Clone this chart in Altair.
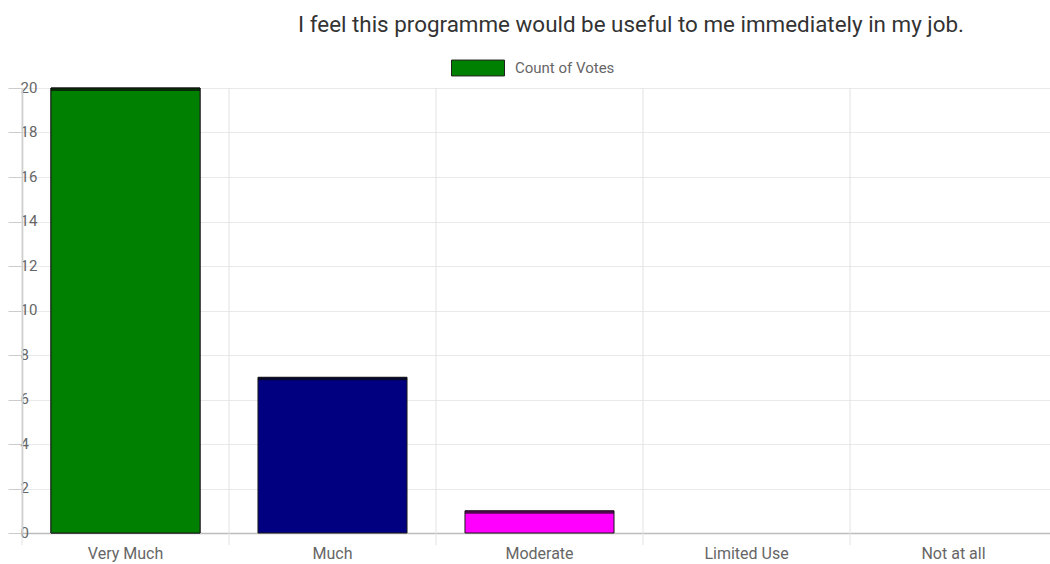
import altair as alt
import pandas as pd

categories = ["Very Much", "Much", "Moderate", "Limited Use", "Not at all"]
votes = [20, 7, 1, 0, 0]
bar_colors = ["#008000", "#000080", "#ff00ff", "#ffa500", "#ff0000"]
series_name = "Count of Votes"
y_ticks = list(range(0, 21, 2))
title_text = "I feel this programme would be useful to me immediately in my job."

df = pd.DataFrame({"cat": categories, "votes": votes, "color": bar_colors, "series": [series_name] * len(categories)})

FONT = "Roboto"
xscale = alt.Scale(domain=categories, range=[0, 1035], paddingInner=0, paddingOuter=0)
yscale = alt.Scale(domain=[0, 20], nice=False)

xaxis = alt.Axis(
    title=None,
    ticks=False,
    grid=False,
    domainColor="#bdbdbd",
    domainWidth=1.5,
    labelFont=FONT,
    labelFontSize=16,
    labelColor="#666666",
    labelPadding=12,
    labelAngle=0,
)
yaxis = alt.Axis(
    title=None,
    values=y_ticks,
    tickSize=14,
    tickColor="#cccccc",
    domainColor="#bdbdbd",
    domainWidth=1.5,
    gridColor="#e9e9e9",
    labelFont=FONT,
    labelFontSize=15,
    labelColor="#666666",
    labelAlign="left",
    labelPadding=-12,
    labelOffset=-1,
)

X = alt.X("cat:N", scale=xscale, sort=None, axis=xaxis)
Y = alt.Y("votes:Q", scale=yscale, axis=yaxis)

base = alt.Chart(df)

vgrid = base.mark_rule(color="#e2e2e2", strokeWidth=1).encode(
    x=alt.X("cat:N", scale=xscale, sort=None, axis=xaxis, bandPosition=0),
    y=alt.value(0),
    y2=alt.value(457),
)

legend_layer = base.transform_filter(alt.datum.cat == categories[0]).mark_bar(
    width=alt.RelativeBandSize(0.72), stroke="#1a1a1a", strokeWidth=1
).encode(
    x=X,
    y=Y,
    color=alt.Color(
        "series:N",
        scale=alt.Scale(range=[bar_colors[0]]),
        legend=alt.Legend(
            title=None,
            orient="none",
            legendX=429,
            legendY=-47,
            padding=0,
            symbolType="M-1,-0.3H1V0.3H-1Z",
            symbolSize=2809,
            symbolStrokeColor="#222222",
            symbolStrokeWidth=1,
            symbolOpacity=1,
            labelFont=FONT,
            labelFontSize=15,
            labelColor="#666666",
            labelOffset=10,
        ),
    ),
)

bars = base.transform_filter(alt.datum.votes > 0).mark_bar(
    width=alt.RelativeBandSize(0.72), stroke="#1a1a1a", strokeWidth=1
).encode(
    x=X,
    y=Y,
    fill=alt.Fill("color:N", scale=None),
)

tops = base.transform_filter(alt.datum.votes > 0).mark_tick(
    orient="horizontal", thickness=3, size=149, color="#0a0a0a", yOffset=1.5
).encode(
    x=X,
    y=Y,
)

chart = alt.layer(vgrid, legend_layer, bars, tops).properties(
    width=1028,
    height=445,
    padding={"left": 22, "top": 88, "right": 0, "bottom": 31},
    autosize=alt.AutoSizeParams(type="none"),
    title=alt.TitleParams(
        title_text,
        font=FONT,
        fontSize=22.4,
        fontWeight="normal",
        color="#333333",
        anchor="middle",
        frame="group",
        dx=95,
        offset=5,
    ),
).configure_view(stroke=None)

chart.save("out.html", embed_options={"renderer": "svg", "actions": False})
